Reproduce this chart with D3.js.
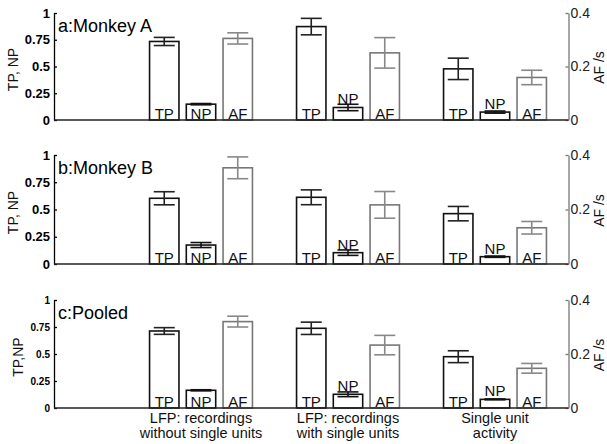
<!DOCTYPE html>
<html>
  <head>
    <meta charset="utf-8">
    <style>
      body { margin: 0; background: #fff; }
      svg { display: block; font-family: "Liberation Sans", Arial, sans-serif; }
    </style>
    <script src="https://cdn.jsdelivr.net/npm/d3@7"></script>
  </head>
  <body>
    <div id="chart"></div>
    <script>
      // --- data ---
      var panelTitles = ["a:Monkey A", "b:Monkey B", "c:Pooled"];
      var leftTitles = ["TP, NP", "TP, NP", "TP,NP"];
      var groupLabels = [["LFP: recordings", "without single units"],
                         ["LFP: recordings", "with single units"],
                         ["Single unit", "activity"]];
      var barNames = ["TP", "NP", "AF"];

      // rows = panels (a, b, c), columns = groups
      var tpMean = [[0.734, 0.873, 0.478], [0.603, 0.612, 0.462], [0.713, 0.738, 0.475]];
      var tpErr  = [[0.038, 0.077, 0.100], [0.060, 0.068, 0.066], [0.031, 0.057, 0.055]];
      var npMean = [[0.148, 0.117, 0.074], [0.174, 0.104, 0.067], [0.164, 0.127, 0.080]];
      var npErr  = [[0.006, 0.030, 0.010], [0.023, 0.025, 0.006], [0.005, 0.022, 0.004]];
      var afMean = [[0.305, 0.251, 0.159], [0.353, 0.217, 0.133], [0.320, 0.233, 0.147]];
      var afErr  = [[0.021, 0.057, 0.027], [0.040, 0.049, 0.023], [0.020, 0.036, 0.018]];

      var leftTicks = [0, 0.25, 0.5, 0.75, 1];
      var leftTickLabels = ["0", "0.25", "0.5", "0.75", "1"];
      var rightTicks = [0, 0.2, 0.4];
      var rightTickLabels = ["0", "0.2", "0.4"];

      // --- layout ---
      var W = 607, H = 444;
      var panelTop = [13, 155, 300], panelBottom = [120, 264, 408];

      var svg = d3.select("#chart").append("svg")
        .attr("width", W).attr("height", H);

      var x = d3.scaleLinear().domain([0, 3.5]).range([54, 568.5]);
      var offsets = [-0.25, 0, 0.25];
      var barW = x(0.2) - x(0);
      var capW = 10.5;
      var strokeCol = ["#111", "#111", "#777"];
      var errCol = ["#222", "#111", "#888"];

      panelTitles.forEach(function(title, p) {
        var yL = d3.scaleLinear().domain([0, 1]).range([panelBottom[p], panelTop[p]]);
        var yR = d3.scaleLinear().domain([0, 0.4]).range([panelBottom[p], panelTop[p]]);
        var g = svg.append("g");

        // bars: TP, NP on left scale, AF on right scale
        var rows = [];
        for (var k = 0; k < 3; k++) {
          rows.push({ k: k, b: 0, y: yL, v: tpMean[p][k], e: tpErr[p][k] });
          rows.push({ k: k, b: 1, y: yL, v: npMean[p][k], e: npErr[p][k] });
          rows.push({ k: k, b: 2, y: yR, v: afMean[p][k], e: afErr[p][k] });
        }

        rows.forEach(function(d) {
          var cx = x(d.k + 1 + offsets[d.b]);
          var top = d.y(d.v), base = d.y(0);
          g.append("rect")
            .attr("x", cx - barW / 2).attr("y", top)
            .attr("width", barW).attr("height", base - top)
            .attr("fill", "#fff")
            .attr("stroke", strokeCol[d.b]).attr("stroke-width", 1.6);

          // label: inside at bottom, or above the bar if it is too short
          var inside = (base - top) >= 14;
          g.append("text")
            .attr("x", cx).attr("y", inside ? base - 1.5 : top - 3)
            .attr("text-anchor", "middle")
            .attr("font-size", 15)
            .attr("fill", "#111")
            .text(barNames[d.b]);

          // error bar
          var y1 = d.y(d.v + d.e), y2 = d.y(d.v - d.e);
          var eg = g.append("g").attr("stroke", errCol[d.b]).attr("stroke-width", 1.6);
          eg.append("line").attr("x1", cx).attr("x2", cx).attr("y1", y1).attr("y2", y2);
          eg.append("line").attr("x1", cx - capW).attr("x2", cx + capW).attr("y1", y1).attr("y2", y1);
          eg.append("line").attr("x1", cx - capW).attr("x2", cx + capW).attr("y1", y2).attr("y2", y2);
        });

        // left axis
        var small = p === 2;
        var la = g.append("g")
          .attr("transform", "translate(" + x(0) + ",0)")
          .call(d3.axisLeft(yL).tickValues(leftTicks)
            .tickFormat(function(d, i) { return leftTickLabels[i]; })
            .tickSizeInner(-3).tickSizeOuter(0).tickPadding(4));
        la.selectAll("text").attr("font-family", null)
          .attr("font-size", small ? 10 : 13).attr("font-weight", "bold").attr("fill", "#000");
        la.selectAll("line, path").attr("stroke", "#000").attr("stroke-width", 1.3);
        la.attr("font-family", null).attr("font-size", null);

        // right axis
        var ra = g.append("g")
          .attr("transform", "translate(" + x(3.5) + ",0)")
          .call(d3.axisRight(yR).tickValues(rightTicks)
            .tickFormat(function(d, i) { return rightTickLabels[i]; })
            .tickSizeInner(-3).tickSizeOuter(0).tickPadding(2));
        ra.selectAll("text").attr("font-size", 14).attr("fill", "#222");
        ra.selectAll("line, path").attr("stroke", "#777").attr("stroke-width", 1.3);
        ra.attr("font-family", null).attr("font-size", null);

        // bottom line
        g.append("line")
          .attr("x1", x(0)).attr("x2", x(3.5))
          .attr("y1", yL(0)).attr("y2", yL(0))
          .attr("stroke", "#222").attr("stroke-width", 1.4);

        // panel title
        g.append("text")
          .attr("x", x(0) + 4).attr("y", panelTop[p] + 19)
          .attr("font-size", 18).attr("fill", "#000")
          .text(title);

        var midY = (panelTop[p] + panelBottom[p]) / 2 + 3;
        g.append("text")
          .attr("transform", "translate(" + (small ? 23 : 18) + "," + midY + ") rotate(-90)")
          .attr("text-anchor", "middle")
          .attr("font-size", 14).attr("fill", "#111")
          .text(leftTitles[p]);

        g.append("text")
          .attr("transform", "translate(604," + (midY - 2) + ") rotate(-90)")
          .attr("text-anchor", "middle")
          .attr("font-size", 14).attr("fill", "#111")
          .text("AF /s");
      });

      // group labels under the bottom panel, one text per line
      groupLabels.forEach(function(lines, k) {
        lines.forEach(function(s, j) {
          svg.append("text")
            .attr("x", x(k + 1)).attr("y", 423 + j * 15)
            .attr("text-anchor", "middle")
            .attr("font-size", 14.5).attr("fill", "#111")
            .text(s);
        });
      });
    </script>
  </body>
</html>
